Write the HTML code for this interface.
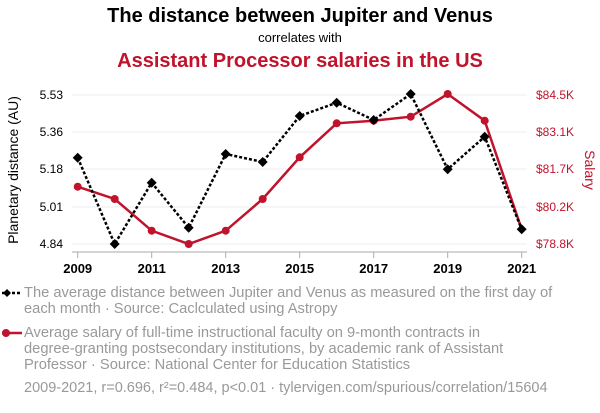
<!DOCTYPE html>
<html><head><meta charset="utf-8"><style>
body{margin:0;background:#fff;width:600px;height:408px;overflow:hidden;font-family:"Liberation Sans",sans-serif}
</style></head><body>
<svg width="600" height="408" xmlns="http://www.w3.org/2000/svg" font-family="Liberation Sans, sans-serif">
<text x="300" y="22" text-anchor="middle" font-size="20" font-weight="bold" fill="#000">The distance between Jupiter and Venus</text>
<text x="300" y="42" text-anchor="middle" font-size="13" fill="#000">correlates with</text>
<text x="300" y="67" text-anchor="middle" font-size="20" font-weight="bold" fill="#c0132c">Assistant Processor salaries in the US</text>
<g stroke="#eee" stroke-width="1">
<line x1="72" x2="527" y1="95" y2="95"/><line x1="72" x2="527" y1="132" y2="132"/><line x1="72" x2="527" y1="169" y2="169"/><line x1="72" x2="527" y1="207" y2="207"/><line x1="72" x2="527" y1="244" y2="244"/>
</g>
<line x1="72" x2="527" y1="252" y2="252" stroke="#aaa"/>
<g stroke="#aaa">
<line x1="77.7" x2="77.7" y1="252" y2="258"/><line x1="151.7" x2="151.7" y1="252" y2="258"/><line x1="225.7" x2="225.7" y1="252" y2="258"/><line x1="299.7" x2="299.7" y1="252" y2="258"/><line x1="373.7" x2="373.7" y1="252" y2="258"/><line x1="447.7" x2="447.7" y1="252" y2="258"/><line x1="521.7" x2="521.7" y1="252" y2="258"/>
</g>
<g font-size="13" font-weight="bold" text-anchor="middle" fill="#000">
<text x="77.7" y="273">2009</text><text x="151.7" y="273">2011</text><text x="225.7" y="273">2013</text><text x="299.7" y="273">2015</text><text x="373.7" y="273">2017</text><text x="447.7" y="273">2019</text><text x="521.7" y="273">2021</text>
</g>
<g font-size="12" text-anchor="end" fill="#000">
<text x="63" y="99">5.53</text><text x="63" y="136">5.36</text><text x="63" y="173">5.18</text><text x="63" y="211">5.01</text><text x="63" y="248">4.84</text>
</g>
<g font-size="12" fill="#c0132c">
<text x="536" y="99">$84.5K</text><text x="536" y="136">$83.1K</text><text x="536" y="173">$81.7K</text><text x="536" y="211">$80.2K</text><text x="536" y="248">$78.8K</text>
</g>
<text transform="translate(18,170) rotate(-90)" text-anchor="middle" font-size="14" fill="#000">Planetary distance (AU)</text>
<text transform="translate(585,170) rotate(90)" text-anchor="middle" font-size="14" fill="#c0132c">Salary</text>
<polyline fill="none" stroke="#c0132c" stroke-width="2.5" points="77.7,186.7 114.7,199 151.7,230.7 188.7,244 225.7,230.7 262.7,199 299.7,157.3 336.7,123.3 373.7,120.7 410.7,116.7 447.7,94 484.7,120.7 521.7,229.3"/>
<g fill="#c0132c">
<circle cx="77.7" cy="186.7" r="4"/><circle cx="114.7" cy="199" r="4"/><circle cx="151.7" cy="230.7" r="4"/><circle cx="188.7" cy="244" r="4"/><circle cx="225.7" cy="230.7" r="4"/><circle cx="262.7" cy="199" r="4"/><circle cx="299.7" cy="157.3" r="4"/><circle cx="336.7" cy="123.3" r="4"/><circle cx="373.7" cy="120.7" r="4"/><circle cx="410.7" cy="116.7" r="4"/><circle cx="447.7" cy="94" r="4"/><circle cx="484.7" cy="120.7" r="4"/>
</g>
<polyline fill="none" stroke="#000" stroke-width="2.5" stroke-dasharray="3,2" points="77.7,157.7 114.7,244 151.7,182.7 188.7,227.7 225.7,154 262.7,162 299.7,116 336.7,102.7 373.7,120 410.7,94 447.7,169.3 484.7,136.7 521.7,229.3"/>
<g fill="#000">
<path d="M77.7,152.7l5,5l-5,5l-5,-5z"/><path d="M114.7,239l5,5l-5,5l-5,-5z"/><path d="M151.7,177.7l5,5l-5,5l-5,-5z"/><path d="M188.7,222.7l5,5l-5,5l-5,-5z"/><path d="M225.7,149l5,5l-5,5l-5,-5z"/><path d="M262.7,157l5,5l-5,5l-5,-5z"/><path d="M299.7,111l5,5l-5,5l-5,-5z"/><path d="M336.7,97.7l5,5l-5,5l-5,-5z"/><path d="M373.7,115l5,5l-5,5l-5,-5z"/><path d="M410.7,89l5,5l-5,5l-5,-5z"/><path d="M447.7,164.3l5,5l-5,5l-5,-5z"/><path d="M484.7,131.7l5,5l-5,5l-5,-5z"/><path d="M521.7,224.3l5,5l-5,5l-5,-5z"/>
</g>
<line x1="2" x2="22" y1="293" y2="293" stroke="#000" stroke-width="2.5" stroke-dasharray="3,2"/>
<path d="M7,289l4,4l-4,4l-4,-4z" fill="#000"/>
<line x1="2" x2="22" y1="333" y2="333" stroke="#c0132c" stroke-width="2.5"/>
<circle cx="6" cy="333" r="4" fill="#c0132c"/>
<g font-size="14.7" fill="#999">
<text x="24" y="297">The average distance between Jupiter and Venus as measured on the first day of</text>
<text x="24" y="313">each month · Source: Caclculated using Astropy</text>
<text x="24" y="337">Average salary of full-time instructional faculty on 9-month contracts in</text>
<text x="24" y="353">degree-granting postsecondary institutions, by academic rank of Assistant</text>
<text x="24" y="369">Professor · Source: National Center for Education Statistics</text>
<text x="24" y="392" font-size="14.5">2009-2021, r=0.696, r²=0.484, p&lt;0.01 · tylervigen.com/spurious/correlation/15604</text>
</g>
</svg>
</body></html>
